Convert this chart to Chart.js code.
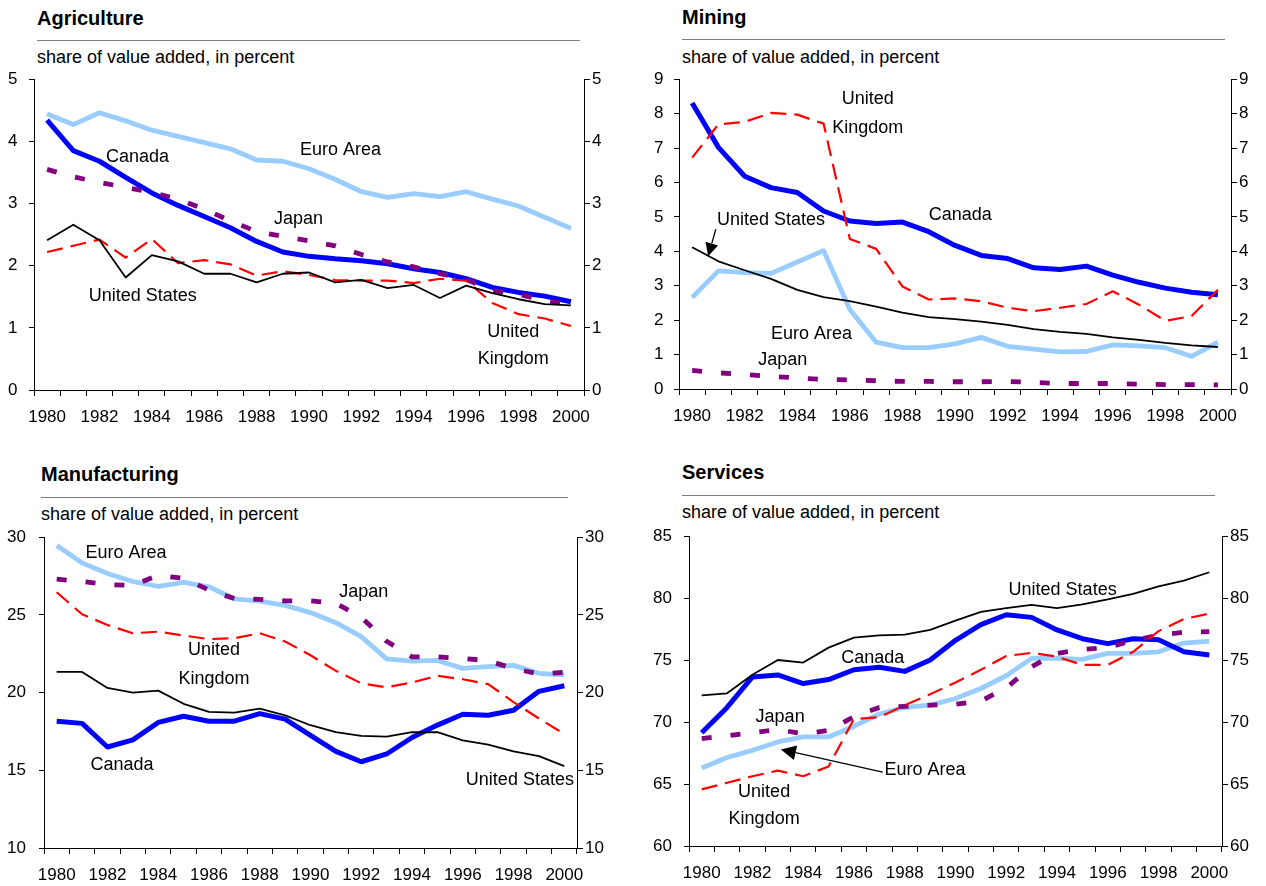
<!DOCTYPE html>
<html><head><meta charset="utf-8">
<script src="https://cdn.jsdelivr.net/npm/chart.js@4.4.1/dist/chart.umd.min.js"></script>
<style>
body{margin:0;background:#fff;width:1266px;height:886px;overflow:hidden;position:relative;font-family:"Liberation Sans",Arial,sans-serif;}
.t{position:absolute;font-weight:bold;font-size:20px;line-height:20px;color:#000;white-space:nowrap;}
.s{position:absolute;font-size:18px;line-height:18px;color:#000;white-space:nowrap;}
.r{position:absolute;height:0;border-top:1.5px solid #7f7f7f;}
canvas{position:absolute;}
</style></head><body>
<div class="t" style="left:37px;top:8px">Agriculture</div>
<div class="r" style="left:37px;top:40px;width:543px"></div>
<div class="s" style="left:37px;top:48px">share of value added, in percent</div>
<canvas id="c1" width="606" height="380" style="left:8px;top:60px"></canvas>

<div class="t" style="left:682px;top:7px">Mining</div>
<div class="r" style="left:682px;top:39px;width:543px"></div>
<div class="s" style="left:682px;top:48px">share of value added, in percent</div>
<canvas id="c2" width="607" height="379" style="left:654px;top:60px"></canvas>

<div class="t" style="left:41px;top:464px">Manufacturing</div>
<div class="r" style="left:41px;top:497px;width:527px"></div>
<div class="s" style="left:41px;top:505px">share of value added, in percent</div>
<canvas id="c3" width="610" height="368" style="left:7px;top:518px"></canvas>

<div class="t" style="left:682px;top:462px">Services</div>
<div class="r" style="left:682px;top:495px;width:533px"></div>
<div class="s" style="left:682px;top:503px">share of value added, in percent</div>
<canvas id="c4" width="609" height="369" style="left:653px;top:517px"></canvas>

<script>
// ---- data ----
const years = ['1980','1981','1982','1983','1984','1985','1986','1987','1988','1989','1990',
               '1991','1992','1993','1994','1995','1996','1997','1998','1999','2000'];
const seriesNames = ['United States','United Kingdom','Japan','Canada','Euro Area'];

const agriUS     = [2.41,2.66,2.41,1.81,2.17,2.07,1.87,1.87,1.73,1.87,1.89,1.73,1.77,1.64,1.69,1.48,1.68,1.56,1.46,1.38,1.36];
const agriUK     = [2.22,2.32,2.42,2.13,2.43,2.04,2.09,2.02,1.84,1.91,1.85,1.77,1.76,1.76,1.72,1.79,1.76,1.40,1.22,1.15,1.03];
const agriJapan  = [3.55,3.43,3.34,3.26,3.18,3.07,2.91,2.72,2.55,2.47,2.40,2.32,2.18,2.06,1.98,1.87,1.78,1.60,1.54,1.44,1.38];
const agriCanada = [4.34,3.85,3.68,3.42,3.17,2.97,2.79,2.61,2.39,2.22,2.15,2.11,2.08,2.03,1.95,1.89,1.79,1.65,1.57,1.51,1.42];
const agriEuro   = [4.44,4.27,4.46,4.33,4.18,4.08,3.98,3.88,3.70,3.68,3.56,3.39,3.19,3.10,3.16,3.11,3.19,3.07,2.96,2.78,2.60];

const minUS     = [4.12,3.71,3.45,3.20,2.88,2.67,2.55,2.39,2.22,2.09,2.03,1.96,1.86,1.74,1.66,1.60,1.50,1.43,1.34,1.27,1.22];
const minUK     = [6.72,7.69,7.76,8.02,7.97,7.71,4.36,4.07,2.98,2.60,2.63,2.55,2.36,2.26,2.36,2.47,2.84,2.45,1.98,2.12,2.88];
const minJapan  = [0.54,0.47,0.42,0.37,0.32,0.28,0.26,0.24,0.22,0.22,0.21,0.21,0.22,0.19,0.16,0.16,0.16,0.14,0.13,0.13,0.12];
const minCanada = [8.31,7.02,6.18,5.85,5.71,5.17,4.88,4.81,4.85,4.57,4.17,3.88,3.79,3.52,3.47,3.57,3.31,3.10,2.93,2.81,2.74];
const minEuro   = [2.66,3.43,3.38,3.36,3.69,4.02,2.31,1.36,1.20,1.20,1.31,1.50,1.24,1.16,1.08,1.09,1.28,1.25,1.20,0.95,1.36];

const manUS     = [21.33,21.33,20.30,20.00,20.13,19.28,18.76,18.71,18.97,18.54,17.90,17.45,17.22,17.17,17.45,17.45,16.92,16.65,16.22,15.91,15.27];
const manUK     = [26.46,25.04,24.35,23.82,23.92,23.67,23.44,23.50,23.82,23.29,22.40,21.40,20.60,20.34,20.65,21.08,20.86,20.55,19.39,18.33,17.34];
const manJapan  = [27.30,27.15,26.95,26.90,27.55,27.35,26.60,26.05,26.00,25.90,25.90,25.75,24.85,23.30,22.30,22.30,22.20,22.05,21.55,21.20,21.30];
const manCanada = [18.16,18.02,16.50,16.96,18.08,18.48,18.16,18.16,18.65,18.29,17.25,16.22,15.55,16.05,17.11,17.91,18.61,18.54,18.86,20.08,20.44];
const manEuro   = [29.47,28.35,27.66,27.15,26.84,27.09,26.81,26.03,25.89,25.61,25.15,24.50,23.60,22.17,22.03,22.07,21.56,21.67,21.75,21.24,21.14];

const serUS     = [72.16,72.32,73.82,75.01,74.80,76.01,76.81,76.99,77.05,77.44,78.18,78.90,79.19,79.45,79.19,79.50,79.90,80.35,80.96,81.41,82.09];
const serUK     = [64.57,65.10,65.63,66.08,65.63,66.42,70.25,70.39,71.36,72.24,73.20,74.22,75.33,75.59,75.28,74.61,74.61,75.67,77.34,78.31,78.76];
const serJapan  = [68.67,68.90,69.15,69.40,69.05,69.33,70.44,71.18,71.26,71.36,71.44,71.70,72.76,74.48,75.54,75.86,76.01,76.60,77.00,77.25,77.30];
const serCanada = [69.14,71.18,73.64,73.80,73.11,73.43,74.22,74.43,74.09,75.01,76.60,77.86,78.66,78.45,77.44,76.73,76.33,76.73,76.65,75.67,75.41];
const serEuro   = [66.29,67.14,67.72,68.40,68.80,68.80,69.67,70.65,71.18,71.36,71.90,72.71,73.74,75.14,75.14,75.06,75.54,75.54,75.67,76.38,76.54];

// y-axis ranges [min, max, step]
const agriRange = [0, 5, 1];
const minRange  = [0, 9, 1];
const manRange  = [10, 30, 5];
const serRange  = [60, 85, 5];

// ---- styles ----
const lineStyles = [
  {borderColor:'#000000', borderWidth:1.8},
  {borderColor:'#FF0000', borderWidth:2.2, borderDash:[16,8]},
  {borderColor:'#800080', borderWidth:4.8, borderDash:[10,19]},
  {borderColor:'#0000FF', borderWidth:5},
  {borderColor:'#99CCFF', borderWidth:4.8}
];
const FONT = '"Liberation Sans", Arial, sans-serif';

function annotPlugin(labels, arrows){
  return {
    id:'annot',
    afterDatasetsDraw(chart){
      const ctx = chart.ctx, xs = chart.scales.x, ys = chart.scales.y;
      const px = yr => xs.getPixelForValue(yr - 1980);
      ctx.save();
      ctx.font = '18px ' + FONT;
      ctx.fillStyle = '#000';
      ctx.textAlign = 'center';
      ctx.textBaseline = 'middle';
      labels.forEach(l => ctx.fillText(l.text, px(l.year), ys.getPixelForValue(l.value)));
      arrows.forEach(a => {
        const x1 = px(a.from[0]), y1 = ys.getPixelForValue(a.from[1]);
        const x2 = px(a.to[0]),   y2 = ys.getPixelForValue(a.to[1]);
        const ang = Math.atan2(y2 - y1, x2 - x1);
        const len = a.head, wid = a.head;
        const bx = x2 - len * Math.cos(ang), by = y2 - len * Math.sin(ang);
        ctx.strokeStyle = '#000'; ctx.lineWidth = 1.3;
        ctx.beginPath(); ctx.moveTo(x1, y1); ctx.lineTo(bx, by); ctx.stroke();
        ctx.beginPath();
        ctx.moveTo(x2, y2);
        ctx.lineTo(bx + wid/2 * Math.sin(ang), by - wid/2 * Math.cos(ang));
        ctx.lineTo(bx - wid/2 * Math.sin(ang), by + wid/2 * Math.cos(ang));
        ctx.closePath(); ctx.fill();
      });
      ctx.restore();
    }
  };
}

function makePanel(id, series, range, geo, labels, arrows){
  const tickFont = {family: FONT, size: 17};
  const datasets = series.map((d, i) => Object.assign({
    label: seriesNames[i], data: d, pointRadius: 0, tension: 0,
    fill: false, borderJoinStyle: 'round', borderCapStyle: 'butt'
  }, lineStyles[i]));
  const yCommon = (pos, w, pad, tl) => ({
    position: pos, min: range[0], max: range[1],
    ticks: {stepSize: range[2], font: tickFont, color: '#000', padding: pad,
            crossAlign: pos === 'left' ? 'far' : 'near'},
    grid: {drawOnChartArea: false, tickLength: tl, color: '#000', lineWidth: 1},
    border: {display: true, color: '#000', width: 1},
    afterFit(s){ s.width = w; }
  });
  new Chart(document.getElementById(id), {
    type: 'line',
    data: {labels: years, datasets},
    options: {
      responsive: false, animation: false, devicePixelRatio: 1,
      layout: {padding: {top: geo.padTop, left: 0, right: 0, bottom: 0}},
      plugins: {legend: {display: false}, tooltip: {enabled: false}, title: {display: false}},
      scales: {
        x: {
          type: 'category', offset: true,
          grid: {offset: true, drawOnChartArea: false, tickLength: 6, color: '#000', lineWidth: 1},
          border: {display: true, color: '#000', width: 1},
          ticks: {autoSkip: false, maxRotation: 0, minRotation: 0, font: tickFont, color: '#000', padding: 11,
                  callback(v, i){ return i % 2 === 0 ? this.getLabelForValue(v) : ''; }},
          afterFit(s){ s.height = geo.xH; }
        },
        y: yCommon('left', geo.leftW, 9, 5),
        y2: yCommon('right', geo.rightW, 2, 6)
      }
    },
    plugins: [annotPlugin(labels, arrows)]
  });
}

makePanel('c1', [agriUS, agriUK, agriJapan, agriCanada, agriEuro], agriRange,
  {padTop: 15, xH: 50, leftW: 26, rightW: 30},
  [
    {text:'Canada', year:1983.45, value:3.74},
    {text:'Euro Area', year:1991.2, value:3.86},
    {text:'Japan', year:1989.6, value:2.75},
    {text:'United States', year:1983.65, value:1.51},
    {text:'United', year:1997.8, value:0.94},
    {text:'Kingdom', year:1997.8, value:0.50}
  ], []);

makePanel('c2', [minUS, minUK, minJapan, minCanada, minEuro], minRange,
  {padTop: 14, xH: 50, leftW: 25, rightW: 30},
  [
    {text:'United', year:1986.68, value:8.42},
    {text:'Kingdom', year:1986.68, value:7.57},
    {text:'Canada', year:1990.2, value:5.04},
    {text:'United States', year:1983.0, value:4.92},
    {text:'Euro Area', year:1984.54, value:1.60},
    {text:'Japan', year:1983.45, value:0.84}
  ],
  [{from:[1980.9, 4.64], to:[1980.61, 3.86], head:13}]);

makePanel('c3', [manUS, manUK, manJapan, manCanada, manEuro], manRange,
  {padTop: 14, xH: 38, leftW: 37, rightW: 40},
  [
    {text:'Euro Area', year:1982.73, value:28.99},
    {text:'Japan', year:1992.1, value:26.46},
    {text:'United', year:1986.2, value:22.72},
    {text:'Kingdom', year:1986.2, value:20.86},
    {text:'Canada', year:1982.57, value:15.33},
    {text:'United States', year:1998.25, value:14.37}
  ], []);

makePanel('c4', [serUS, serUK, serJapan, serCanada, serEuro], serRange,
  {padTop: 14, xH: 40, leftW: 36, rightW: 40},
  [
    {text:'United States', year:1994.22, value:80.64},
    {text:'Canada', year:1986.74, value:75.14},
    {text:'Japan', year:1983.09, value:70.38},
    {text:'Euro Area', year:1988.8, value:66.16},
    {text:'United', year:1982.46, value:64.38},
    {text:'Kingdom', year:1982.46, value:62.14}
  ],
  [{from:[1987.13, 65.97], to:[1983.12, 67.79], head:15}]);
</script>
</body></html>
